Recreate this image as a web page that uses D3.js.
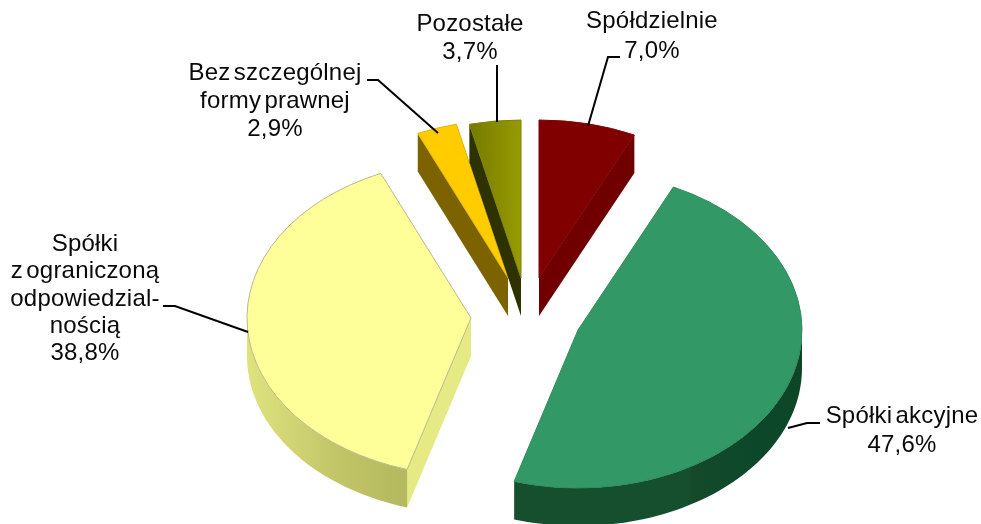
<!DOCTYPE html>
<html>
<head>
<meta charset="utf-8">
<script src="https://cdnjs.cloudflare.com/ajax/libs/d3/7.8.5/d3.min.js"></script>
<style>
  html, body { margin: 0; padding: 0; background: #fff; }
  text { font-family: "Liberation Sans", Arial, sans-serif; font-size: 24px; letter-spacing: 0.2px; word-spacing: -3.5px; fill: #0a0a0a; text-anchor: middle; }
</style>
</head>
<body>
<svg width="981" height="524"></svg>
<script>
// ************** Data *****************

const categories = ["Spółdzielnie", "Spółki akcyjne", "Spółki z ograniczoną odpowiedzialnością", "Bez szczególnej formy prawnej", "Pozostałe"];
const values = [7.0, 47.6, 38.8, 2.9, 3.7];
const labelLines = [
    ["Spółdzielnie"],
    ["Spółki akcyjne"],
    ["Spółki", "z ograniczoną", "odpowiedzial-", "nością"],
    ["Bez szczególnej", "formy prawnej"],
    ["Pozostałe"]
];

// ************** Look *****************

const topColors = ["#800000", "#339966", "#ffff99", "#ffcc00", "url(#olive)"];
const wallColors = ["#690000", "#14502f", "#c6ca6a", "#7d6400", "#2f3300"];
const edgeColors = ["#800000", "#2e8a5c", "#b9b98c", "#e0b400", "#7d8200"];
const radialWallColors = ["#700000", "#14502f", "#e6ea84", "#7d6400", "#2f3300"];

// where the point of each exploded slice sits
const apexX = [539, 578, 471, 508, 521];
const apexY = [278, 330, 318, 278, 278];

const rx = 224, ry = 158, depth = 38;
const drawOrder = [0, 3, 4, 1, 2];

// label anchors: centre x, baselines
const labelX = [652, 902, 85, 275, 470];
const labelY = [
    [28, 58],
    [423, 452],
    [251, 278, 306, 333, 360],
    [80, 108, 136],
    [31, 59]
];
const leaders = [
    [[620, 57], [608, 57], [588, 126]],
    [[820, 423], [807, 423], [788, 428]],
    [[163, 306], [175, 306], [248, 332]],
    [[367, 80], [378, 80], [438, 133]],
    [[497, 65], [497, 122]]
];

// *************** Graph Setup *****************

let svg = d3.select("svg");

let defs = svg.append("defs");
defs.append("filter").attr("id", "soft")
    .append("feGaussianBlur").attr("stdDeviation", 0.55);

// outer walls get a little shading
let wallGrad = defs.append("linearGradient").attr("id", "wall2");
wallGrad.append("stop").attr("offset", "0%").attr("stop-color", "#dfe37e");
wallGrad.append("stop").attr("offset", "55%").attr("stop-color", "#c2c668");
wallGrad.append("stop").attr("offset", "100%").attr("stop-color", "#b4b85e");
let greenGrad = defs.append("linearGradient").attr("id", "wall1");
greenGrad.append("stop").attr("offset", "0%").attr("stop-color", "#14502f");
greenGrad.append("stop").attr("offset", "60%").attr("stop-color", "#14502f");
greenGrad.append("stop").attr("offset", "62%").attr("stop-color", "#124a2c");
greenGrad.append("stop").attr("offset", "100%").attr("stop-color", "#0f4528");
let oliveGrad = defs.append("linearGradient").attr("id", "olive");
oliveGrad.append("stop").attr("offset", "0%").attr("stop-color", "#757a00");
oliveGrad.append("stop").attr("offset", "100%").attr("stop-color", "#969b00");

const pie = d3.pie().sort(null).value(function(d) { return d; });
const slices = pie(values);

const arc = d3.arc().innerRadius(0).outerRadius(rx);
const line = d3.line();

// point on the rim of slice i, screen coordinates
function rim(i, a, drop) {
    return [apexX[i] + rx * Math.sin(a), apexY[i] - ry * Math.cos(a) + drop];
}

let pieG = svg.append("g").attr("filter", "url(#soft)");

drawOrder.forEach(function(i) {
    let s = slices[i];
    let g = pieG.append("g");

    // radial wall, only if it faces the viewer
    let edge = null;
    if (Math.sin(s.startAngle) < -1e-6) edge = s.startAngle;
    if (Math.sin(s.endAngle) > 1e-6) edge = s.endAngle;
    if (edge !== null) {
        g.append("path")
            .attr("d", line([
                [apexX[i], apexY[i]], rim(i, edge, 0), rim(i, edge, depth), [apexX[i], apexY[i] + depth]
            ]) + "Z")
            .attr("fill", radialWallColors[i]);
    }

    // outer wall: the part of the rim on the near side
    let a0 = Math.max(s.startAngle, Math.PI / 2);
    let a1 = Math.min(s.endAngle, 3 * Math.PI / 2);
    if (a1 > a0) {
        let angles = d3.range(0, 61).map(function(k) { return a0 + (a1 - a0) * k / 60; });
        let pts = angles.map(function(a) { return rim(i, a, 0); })
            .concat(angles.slice().reverse().map(function(a) { return rim(i, a, depth); }));
        let fill = wallColors[i];
        if (i === 1) fill = "url(#wall1)";
        if (i === 2) fill = "url(#wall2)";
        g.append("path").attr("d", line(pts) + "Z").attr("fill", fill);
    }

    // top face
    g.append("path")
        .attr("d", arc(s))
        .attr("transform", "translate(" + apexX[i] + "," + apexY[i] + ") scale(1," + (ry / rx) + ")")
        .attr("fill", topColors[i])
        .attr("stroke", edgeColors[i])
        .attr("stroke-width", 1)
        .attr("vector-effect", "non-scaling-stroke");
});

// leader lines
svg.selectAll(".leader")
    .data(leaders)
    .enter().append("path")
    .attr("class", "leader")
    .attr("d", function(d) { return line(d); })
    .attr("fill", "none")
    .attr("stroke", "#000")
    .attr("stroke-width", 2);

// labels, last line is the percentage
labelLines.forEach(function(lines, i) {
    let all = lines.concat([values[i].toFixed(1).replace(".", ",") + "%"]);
    let t = svg.append("text").attr("data-category", categories[i]);
    all.forEach(function(txt, k) {
        t.append("tspan")
            .attr("x", labelX[i])
            .attr("y", labelY[i][k])
            .text(txt);
    });
});
</script>
</body>
</html>
